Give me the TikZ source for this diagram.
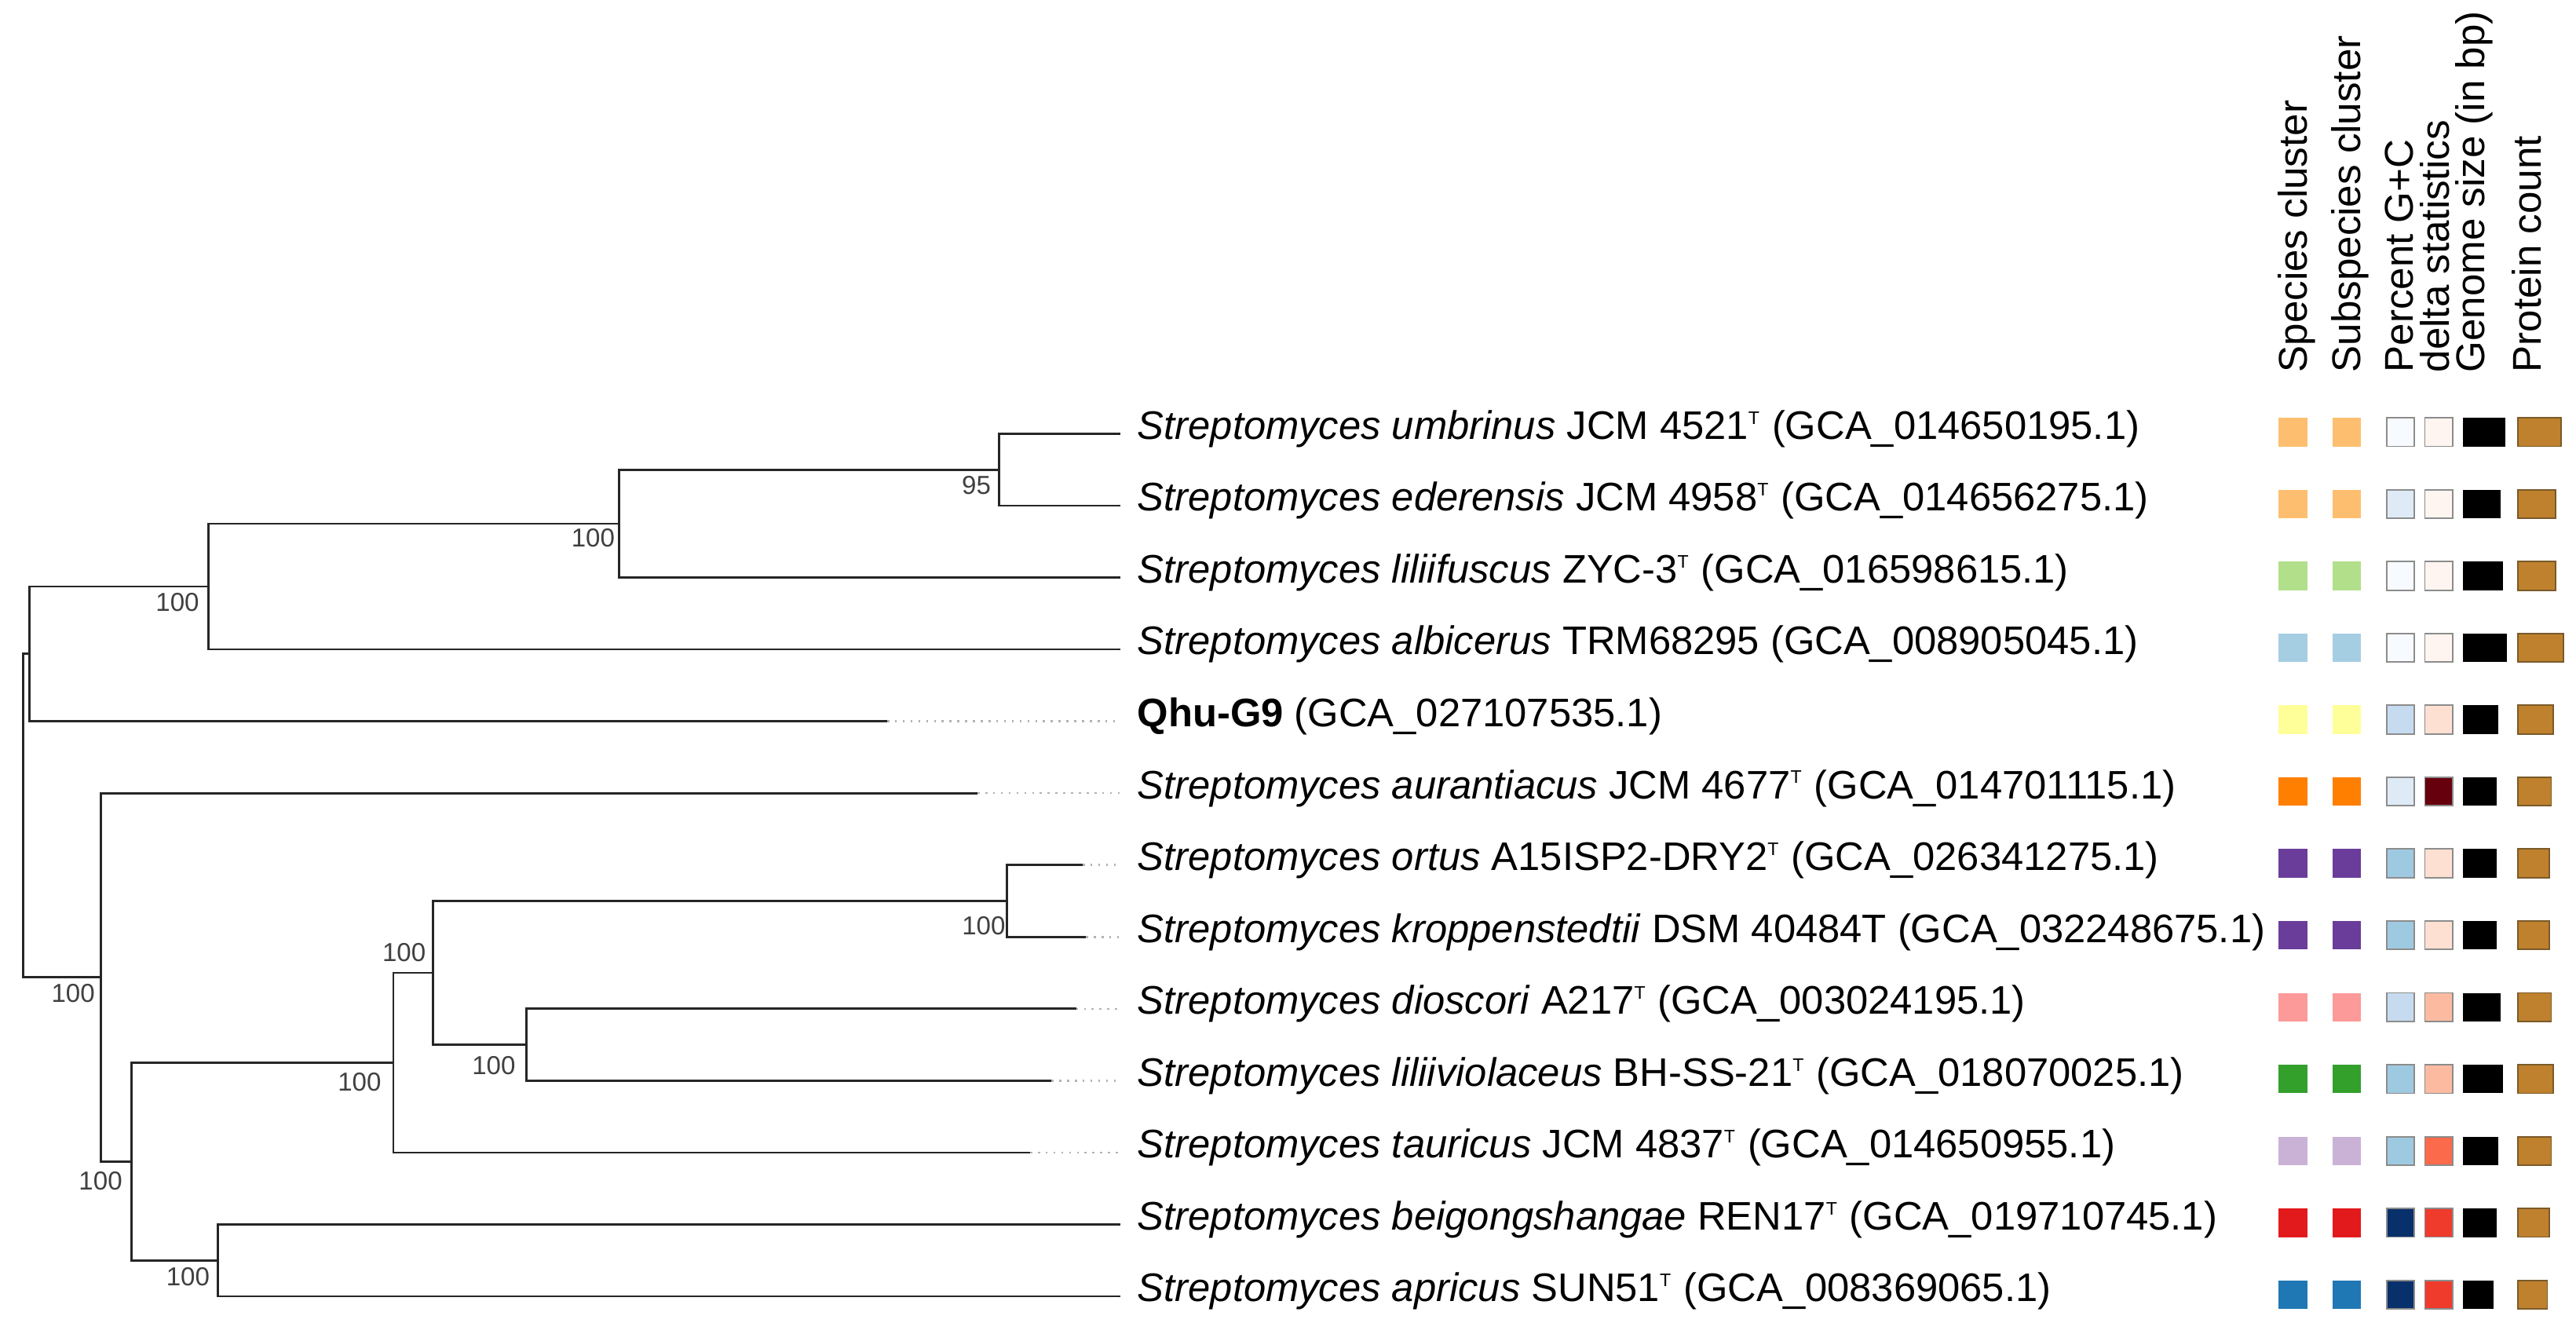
\documentclass[tikz,border=0pt]{standalone}
\usepackage{fontspec}
\setmainfont{Liberation Sans}
\usetikzlibrary{positioning}

\definecolor{spOrangeL}{HTML}{FDBF6F}
\definecolor{spGreenL}{HTML}{B2DF8A}
\definecolor{spBlueL}{HTML}{A6CEE3}
\definecolor{spYellow}{HTML}{FFFF99}
\definecolor{spOrange}{HTML}{FF7F00}
\definecolor{spPurple}{HTML}{6A3D9A}
\definecolor{spPink}{HTML}{FB9A99}
\definecolor{spGreen}{HTML}{33A02C}
\definecolor{spLav}{HTML}{CAB2D6}
\definecolor{spRed}{HTML}{E31A1C}
\definecolor{spBlue}{HTML}{1F78B4}
\definecolor{gcA}{HTML}{F7FBFF}
\definecolor{gcB}{HTML}{DEEBF7}
\definecolor{gcC}{HTML}{C6DBEF}
\definecolor{gcD}{HTML}{9ECAE1}
\definecolor{gcE}{HTML}{08306B}
\definecolor{dlA}{HTML}{FFF5F0}
\definecolor{dlB}{HTML}{FEE0D2}
\definecolor{dlC}{HTML}{FCBBA1}
\definecolor{dlD}{HTML}{FB6A4A}
\definecolor{dlE}{HTML}{EF3B2C}
\definecolor{dlF}{HTML}{67000D}
\definecolor{prot}{HTML}{BF812D}
\definecolor{protEdge}{HTML}{7A5A2A}

\newcommand{\typeT}{\textsuperscript{\fontsize{6.3}{6.3}\selectfont T}}
\newcommand{\strep}[1]{\textit{Streptomyces #1}}
% y, cluster colour, G+C colour, delta colour, genome width, protein width
\newcommand{\heatrow}[6]{%
  \fill[#2] (1386.7,#1-9.7) rectangle (1404.7,#1+7.7);
  \fill[#2] (1419.7,#1-9.7) rectangle (1436.9,#1+7.7);
  \draw[cellgc, fill=#3] (1453,#1-9.7) rectangle (1469.7,#1+7.7);
  \draw[cellgc, fill=#4] (1476,#1-9.7) rectangle (1492.8,#1+7.7);
  \fill[black] (1499,#1-9.7) rectangle (1499+#5,#1+7.7);
  \draw[protEdge, line width=0.5pt, fill=prot] (1532.5,#1-9.7) rectangle (1532.5+#6,#1+7.7);
}

\begin{document}
\begin{tikzpicture}[x=0.02cm, y=-0.02cm,
	branch/.style={draw=black!85, line width=0.75pt},
	tail/.style={draw=black!30, line width=0.7pt, dotted},
	leaf/.style={inner sep=0pt, anchor=base west, font=\fontsize{13.8}{16}\selectfont},
	boot/.style={inner sep=0pt, text=black!75, font=\fontsize{9}{10}\selectfont},
	head/.style={inner sep=0pt, rotate=90, anchor=base west, font=\fontsize{13.9}{16}\selectfont},
	cellgc/.style={draw=black!45, line width=0.5pt}]
	\useasboundingbox (0,0) rectangle (1568,805);

	\coordinate (root) at (14,496.4);
	\coordinate (nA) at (18,398);
	\coordinate (nB) at (127,357);
	\coordinate (nC) at (377,318.7);
	\coordinate (nD) at (608,285.9);
	\coordinate (nE) at (61.4,594.9);
	\coordinate (nF) at (80.2,707);
	\coordinate (nG) at (239.4,646.8);
	\coordinate (nI) at (263.7,592.1);
	\coordinate (nJ) at (613,548.4);
	\coordinate (nK) at (320.4,635.9);
	\coordinate (nH) at (132.7,767.1);

	\coordinate (t0) at (682,264);
	\coordinate (t1) at (682,307.75);
	\coordinate (t2) at (682,351.5);
	\coordinate (t3) at (682,395.25);
	\coordinate (t4) at (682,439);
	\coordinate (t5) at (682,482.75);
	\coordinate (t6) at (682,526.5);
	\coordinate (t7) at (682,570.25);
	\coordinate (t8) at (682,614);
	\coordinate (t9) at (682,657.75);
	\coordinate (t10) at (682,701.5);
	\coordinate (t11) at (682,745.25);
	\coordinate (t12) at (682,789);

	\coordinate (s4) at (540,439);
	\coordinate (s5) at (595,482.75);
	\coordinate (s6) at (659,526.5);
	\coordinate (s7) at (661,570.25);
	\coordinate (s8) at (655,614);
	\coordinate (s9) at (640,657.75);
	\coordinate (s10) at (627,701.5);

	\draw [branch] (root) |- (nA);
	\draw [branch] (root) |- (nE);
	\draw [branch] (nA) |- (nB);
	\draw [branch] (nA) |- (s4);
	\draw [branch] (nB) |- (nC);
	\draw [branch] (nB) |- (t3);
	\draw [branch] (nC) |- (nD);
	\draw [branch] (nC) |- (t2);
	\draw [branch] (nD) |- (t0);
	\draw [branch] (nD) |- (t1);
	\draw [branch] (nE) |- (s5);
	\draw [branch] (nE) |- (nF);
	\draw [branch] (nF) |- (nG);
	\draw [branch] (nF) |- (nH);
	\draw [branch] (nG) |- (nI);
	\draw [branch] (nG) |- (s10);
	\draw [branch] (nI) |- (nJ);
	\draw [branch] (nI) |- (nK);
	\draw [branch] (nJ) |- (s6);
	\draw [branch] (nJ) |- (s7);
	\draw [branch] (nK) |- (s8);
	\draw [branch] (nK) |- (s9);
	\draw [branch] (nH) |- (t11);
	\draw [branch] (nH) |- (t12);
	\draw [tail] (s4) -- (t4);
	\draw [tail] (s5) -- (t5);
	\draw [tail] (s6) -- (t6);
	\draw [tail] (s7) -- (t7);
	\draw [tail] (s8) -- (t8);
	\draw [tail] (s9) -- (t9);
	\draw [tail] (s10) -- (t10);

	\node [boot, anchor=north east, below left=2pt and 2.6pt] (bD) at (nD) {95};
	\node [boot, anchor=north east, below left=1.6pt and 1.4pt] (bC) at (nC) {100};
	\node [boot, anchor=north east, below left=2.2pt and 3.1pt] (bB) at (nB) {100};
	\node [boot, anchor=north east, below left=2pt and 1.9pt] (bE) at (nE) {100};
	\node [boot, anchor=north east, below left=3.3pt and 3.1pt] (bF) at (nF) {100};
	\node [boot, anchor=north east, below left=3.4pt and 4pt] (bG) at (nG) {100};
	\node [boot, anchor=south east, above left=3.6pt and 2.4pt] (bI) at (nI) {100};
	\node [boot, anchor=north east, below left=5.1pt and 0.4pt] (bJ) at (nJ) {100};
	\node [boot, anchor=north east, below left=3.7pt and 3.6pt] (bK) at (nK) {100};
	\node [boot, anchor=north east, below left=2.4pt and 2.7pt] (bH) at (nH) {100};

	\node [leaf] (L0) at ([shift={(10,3.3)}]t0) {\strep{umbrinus} JCM 4521\typeT{} (GCA\_014650195.1)};
	\node [leaf] (L1) at ([shift={(10,3.3)}]t1) {\strep{ederensis} JCM 4958\typeT{} (GCA\_014656275.1)};
	\node [leaf] (L2) at ([shift={(10,3.3)}]t2) {\strep{liliifuscus} ZYC-3\typeT{} (GCA\_016598615.1)};
	\node [leaf] (L3) at ([shift={(10,3.3)}]t3) {\strep{albicerus} TRM68295 (GCA\_008905045.1)};
	\node [leaf] (L4) at ([shift={(10,3.3)}]t4) {\textbf{Qhu-G9} (GCA\_027107535.1)};
	\node [leaf] (L5) at ([shift={(10,3.3)}]t5) {\strep{aurantiacus} JCM 4677\typeT{} (GCA\_014701115.1)};
	\node [leaf] (L6) at ([shift={(10,3.3)}]t6) {\strep{ortus} A15ISP2-DRY2\typeT{} (GCA\_026341275.1)};
	\node [leaf] (L7) at ([shift={(10,3.3)}]t7) {\strep{kroppenstedtii} DSM 40484T (GCA\_032248675.1)};
	\node [leaf] (L8) at ([shift={(10,3.3)}]t8) {\strep{dioscori} A217\typeT{} (GCA\_003024195.1)};
	\node [leaf] (L9) at ([shift={(10,3.3)}]t9) {\strep{liliiviolaceus} BH-SS-21\typeT{} (GCA\_018070025.1)};
	\node [leaf] (L10) at ([shift={(10,3.3)}]t10) {\strep{tauricus} JCM 4837\typeT{} (GCA\_014650955.1)};
	\node [leaf] (L11) at ([shift={(10,3.3)}]t11) {\strep{beigongshangae} REN17\typeT{} (GCA\_019710745.1)};
	\node [leaf] (L12) at ([shift={(10,3.3)}]t12) {\strep{apricus} SUN51\typeT{} (GCA\_008369065.1)};

	\node [head] (hSpec) at (1404.2,227) {Species cluster};
	\node [head] (hSub) at (1436.6,227) {Subspecies cluster};
	\node [head] (hGC) at (1468.7,227) {Percent G+C};
	\node [head] (hDelta) at (1491,227) {delta statistics};
	\node [head] (hSize) at (1512.5,227) {Genome size (in bp)};
	\node [head] (hProt) at (1546.8,227) {Protein count};

	\heatrow{264}{spOrangeL}{gcA}{dlA}{25.8}{26.3}
	\heatrow{307.75}{spOrangeL}{gcB}{dlA}{22.9}{23.1}
	\heatrow{351.5}{spGreenL}{gcA}{dlA}{24.5}{23.1}
	\heatrow{395.25}{spBlueL}{gcA}{dlA}{26.9}{27.9}
	\heatrow{439}{spYellow}{gcC}{dlB}{21.8}{21.8}
	\heatrow{482.75}{spOrange}{gcB}{dlF}{20.5}{20.4}
	\heatrow{526.5}{spPurple}{gcD}{dlB}{20.5}{19.1}
	\heatrow{570.25}{spPurple}{gcD}{dlB}{20.5}{19.1}
	\heatrow{614}{spPink}{gcC}{dlC}{22.9}{20.4}
	\heatrow{657.75}{spGreen}{gcD}{dlC}{24.5}{21.8}
	\heatrow{701.5}{spLav}{gcD}{dlD}{21.8}{20.4}
	\heatrow{745.25}{spRed}{gcE}{dlE}{20.5}{19.1}
	\heatrow{789}{spBlue}{gcE}{dlE}{18.6}{18.0}

\end{tikzpicture}
\end{document}
